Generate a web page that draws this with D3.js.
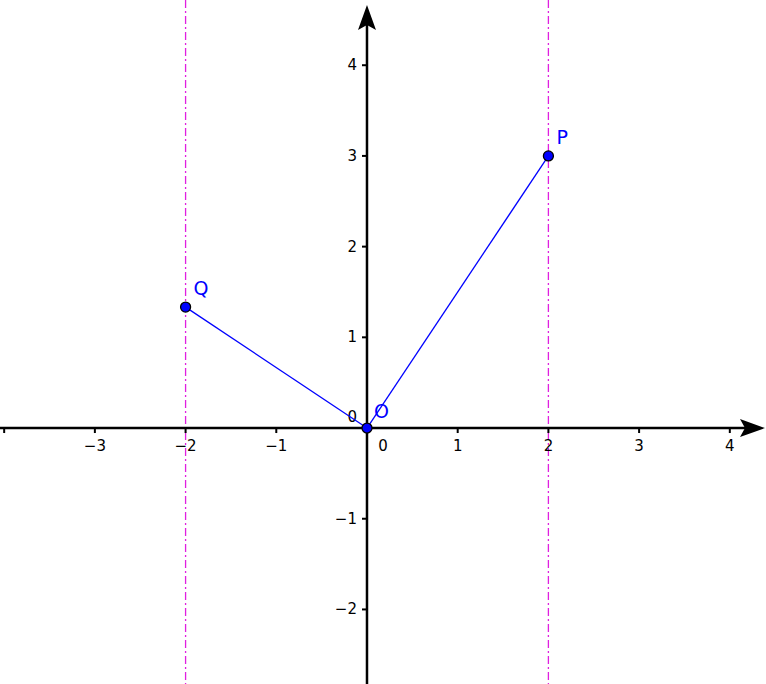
<!DOCTYPE html>
<html><head><meta charset="utf-8">
<script src="https://cdn.jsdelivr.net/npm/d3@7"></script>
<style>body{margin:0;background:#fff}text{font-family:"DejaVu Sans",sans-serif}</style>
</head><body>
<svg id="chart" width="766" height="684"></svg>
<script>
var xTicks = [-3, -2, -1, 1, 2, 3, 4];
var yTicks = [-2, -1, 1, 2, 3, 4];
var pointNames = ['O', 'P', 'Q'];
var pointX = [0, 2, -2];
var pointY = [0, 3, 4/3];
var guideX = [-2, 2];

var svg = d3.select('#chart');
var unit = 90.7;
var x = d3.scaleLinear().domain([-4.046, 4.399]).range([0, 766]);
var y = d3.scaleLinear().domain([4.719, -2.822]).range([0, 684]);

// vertical dash-dot guides
svg.selectAll('line.guide').data(guideX).enter().append('line')
	.attr('x1', function(d){ return x(d); }).attr('x2', function(d){ return x(d); })
	.attr('y1', 0).attr('y2', 684)
	.attr('stroke', '#e020e0').attr('stroke-width', 1.3)
	.attr('stroke-dasharray', '8,3,2,3');

// axes
var x0 = x(0), y0 = y(0);
svg.append('line').attr('x1', 0).attr('x2', 752).attr('y1', y0).attr('y2', y0)
	.attr('stroke', '#000').attr('stroke-width', 2.5);
svg.append('path').attr('d', 'M765,' + y0 + ' L740,' + (y0 - 9) + ' L745,' + y0 + ' L740,' + (y0 + 9) + 'Z');
svg.append('line').attr('x1', x0).attr('x2', x0).attr('y1', 684).attr('y2', 18)
	.attr('stroke', '#000').attr('stroke-width', 2.5);
svg.append('path').attr('d', 'M' + x0 + ',5 L' + (x0 - 9) + ',30 L' + x0 + ',25 L' + (x0 + 9) + ',30Z');

// ticks
svg.selectAll('line.xt').data(d3.range(-4, 5)).enter().append('line')
	.attr('x1', function(d){ return x(d); }).attr('x2', function(d){ return x(d); })
	.attr('y1', y0).attr('y2', y0 + 5).attr('stroke', '#000').attr('stroke-width', 2);
svg.selectAll('line.yt').data(d3.range(-2, 5)).enter().append('line')
	.attr('y1', function(d){ return y(d); }).attr('y2', function(d){ return y(d); })
	.attr('x1', x0 - 5).attr('x2', x0).attr('stroke', '#000').attr('stroke-width', 2);

svg.selectAll('text.xl').data(xTicks).enter().append('text')
	.attr('x', function(d){ return x(d); }).attr('y', y0 + 23)
	.attr('text-anchor', 'middle').attr('font-size', 15)
	.text(function(d){ return d < 0 ? '\u2212' + (-d) : d; });
svg.selectAll('text.yl').data(yTicks).enter().append('text')
	.attr('x', x0 - 10).attr('y', function(d){ return y(d) + 5; })
	.attr('text-anchor', 'end').attr('font-size', 15)
	.text(function(d){ return d < 0 ? '\u2212' + (-d) : d; });
svg.append('text').attr('x', x0 - 10).attr('y', y0 - 6).attr('text-anchor', 'end').attr('font-size', 15).text('0');
svg.append('text').attr('x', x0 + 16).attr('y', y0 + 23).attr('text-anchor', 'middle').attr('font-size', 15).text('0');

// segments O-P, O-Q
svg.selectAll('line.seg').data([1, 2]).enter().append('line')
	.attr('x1', x(pointX[0])).attr('y1', y(pointY[0]))
	.attr('x2', function(i){ return x(pointX[i]); }).attr('y2', function(i){ return y(pointY[i]); })
	.attr('stroke', '#0000ff').attr('stroke-width', 1.3);

// points
svg.selectAll('circle.pt').data(pointNames).enter().append('circle')
	.attr('cx', function(d, i){ return x(pointX[i]); }).attr('cy', function(d, i){ return y(pointY[i]); })
	.attr('r', 5).attr('fill', '#0000ff').attr('stroke', '#000').attr('stroke-width', 1.3);
svg.selectAll('text.pl').data(pointNames).enter().append('text')
	.attr('x', function(d, i){ return x(pointX[i]) + (i == 0 ? 7 : 8); })
	.attr('y', function(d, i){ return y(pointY[i]) - (i == 0 ? 10 : 12); })
	.attr('font-size', 19).attr('fill', '#0000ff')
	.text(function(d){ return d; });
</script>
</body></html>
